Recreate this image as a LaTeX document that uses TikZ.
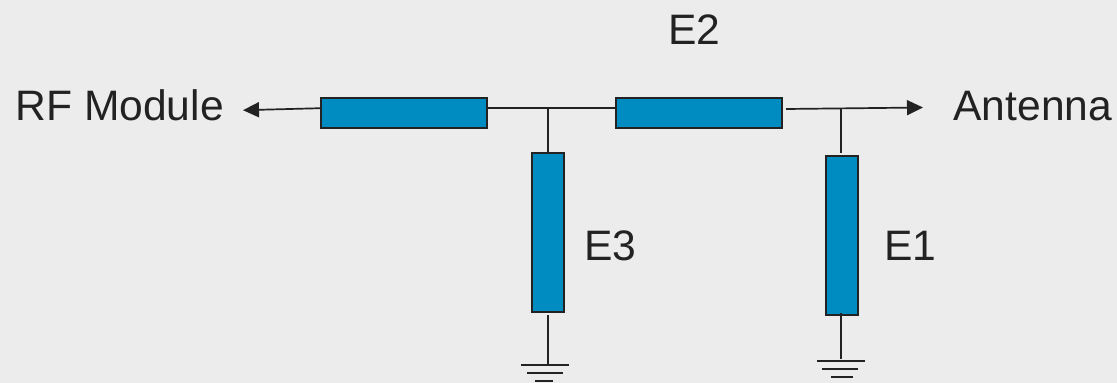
\documentclass[tikz,border=0pt]{standalone}
\usepackage{fontspec}
\setmainfont{Liberation Sans}
\usetikzlibrary{arrows.meta}
\definecolor{bgc}{HTML}{ECECEC}
\definecolor{ink}{HTML}{222222}
\definecolor{boxc}{HTML}{008CC1}
\tikzset{
  x=1pt,y=-1pt,
  elem/.style={draw=ink,fill=boxc,line width=2pt,inner sep=0pt,outer sep=0pt,anchor=north west},
  wire/.style={draw=ink,line width=1.7pt},
  arrowwire/.style={wire,-{Triangle[length=16pt,width=15pt]}},
  gnd/.style={draw=ink,line width=2pt},
  lbl/.style={text=ink,font=\fontsize{42.6}{43}\selectfont,inner sep=0pt,outer sep=0pt,anchor=base west},
}
\begin{document}
\begin{tikzpicture}
\useasboundingbox[fill=bgc] (0,0) rectangle (1117,383);
\node[elem,minimum width=166pt,minimum height=30pt] (b1) at (320.5,97.5) {};
\node[elem,minimum width=166pt,minimum height=30pt] (b2) at (616,97.5) {};
\node[elem,minimum width=32pt,minimum height=159pt] (e3) at (532,152.5) {};
\node[elem,minimum width=32pt,minimum height=159pt] (e1) at (826,156) {};
\coordinate (tipL) at (243,110.2);
\coordinate (b1L) at (320.5,108.2);
\coordinate (tipR) at (923,107.5);
\coordinate (w2s) at (786,109);
\coordinate (j3) at (548,108);
\coordinate (j1) at (841,108);
\coordinate (j3b) at (548,152.5);
\coordinate (j1b) at (841,153);
\coordinate (g3t) at (548,315);
\coordinate (g3) at (548,365);
\coordinate (g1t) at (841,313);
\coordinate (g1) at (841,359);
\coordinate (g3a) at (521,365); \coordinate (g3b) at (569,365);
\coordinate (g3c) at (527,373); \coordinate (g3d) at (563,373);
\coordinate (g3e) at (535,381); \coordinate (g3f) at (553,381);
\coordinate (g1a) at (817,361); \coordinate (g1b) at (865,361);
\coordinate (g1c) at (822,369); \coordinate (g1d) at (858,369);
\coordinate (g1e) at (831,377); \coordinate (g1f) at (853,377);
\draw[arrowwire] (b1L) -- (tipL);
\draw[wire] (b1.east |- j3) -- (b2.west |- j3);
\draw[arrowwire] (w2s) -- (tipR);
\draw[wire] (j3) -- (j3b);
\draw[wire] (j1) -- (j1b);
\draw[wire] (g3t) -- (g3);
\draw[wire] (g1t) -- (g1);
\draw[gnd] (g3a) -- (g3b);
\draw[gnd] (g3c) -- (g3d);
\draw[gnd] (g3e) -- (g3f);
\draw[gnd] (g1a) -- (g1b);
\draw[gnd] (g1c) -- (g1d);
\draw[gnd] (g1e) -- (g1f);
\node[lbl] (rf) at (15.5,120) {RF Module};
\node[lbl] (ant) at (953.5,120) {Antenna};
\node[lbl] (t2) at (668.5,44) {E2};
\node[lbl] (t3) at (584,260) {E3};
\node[lbl] (t1) at (884,260) {E1};
\end{tikzpicture}
\end{document}
